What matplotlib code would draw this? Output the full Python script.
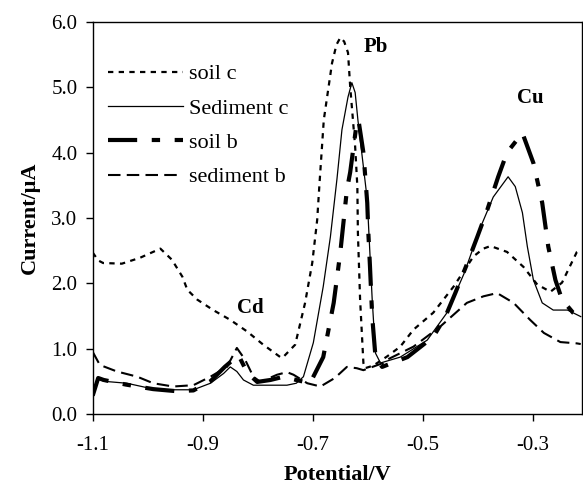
import matplotlib
matplotlib.use("Agg")
import matplotlib.pyplot as plt

# potential (V) / current (uA)
soil_c_v = [-1.100, -1.090, -1.081, -1.047, -1.014, -0.977, -0.956, -0.937, -0.928, -0.910,
            -0.881, -0.850, -0.819, -0.790, -0.759, -0.755, -0.732, -0.714, -0.701, -0.692,
            -0.688, -0.680, -0.665, -0.657, -0.650, -0.643, -0.636, -0.632, -0.623, -0.619,
            -0.618, -0.614, -0.608, -0.605, -0.590, -0.565, -0.541, -0.517, -0.481, -0.444,
            -0.408, -0.390, -0.377, -0.347, -0.317, -0.292, -0.268, -0.247, -0.220, -0.213]
soil_c_i = [2.47, 2.35, 2.31, 2.30, 2.39, 2.53, 2.36, 2.10, 1.90, 1.75,
            1.59, 1.44, 1.26, 1.06, 0.87, 0.86, 1.06, 1.70, 2.31, 2.97,
            3.50, 4.50, 5.37, 5.65, 5.76, 5.70, 5.53, 5.01, 4.09, 3.48,
            2.77, 1.75, 0.78, 0.70, 0.74, 0.88, 1.03, 1.29, 1.55, 1.95,
            2.41, 2.53, 2.57, 2.48, 2.25, 1.98, 1.87, 2.01, 2.48, 2.52]

sed_c_v = [-1.100, -1.090, -1.080, -1.038, -1.000, -0.977, -0.917, -0.886, -0.862, -0.850,
           -0.838, -0.826, -0.808, -0.777, -0.747, -0.730, -0.717, -0.699, -0.681, -0.668,
           -0.656, -0.647, -0.636, -0.629, -0.623, -0.618, -0.601, -0.592, -0.586, -0.577,
           -0.541, -0.492, -0.456, -0.425, -0.395, -0.372, -0.345, -0.332, -0.319, -0.310,
           -0.299, -0.283, -0.263, -0.237, -0.213]
sed_c_i = [0.26, 0.55, 0.50, 0.47, 0.40, 0.37, 0.37, 0.47, 0.62, 0.72,
           0.65, 0.52, 0.44, 0.44, 0.44, 0.47, 0.57, 1.09, 1.95, 2.71,
           3.60, 4.35, 4.85, 5.07, 4.92, 4.50, 3.28, 1.75, 0.93, 0.78,
           0.87, 1.13, 1.55, 2.15, 2.86, 3.32, 3.63, 3.48, 3.08, 2.56,
           2.05, 1.70, 1.59, 1.59, 1.49]

soil_b_v = [-1.100, -1.090, -1.080, -1.040, -0.990, -0.950, -0.917, -0.886, -0.860, -0.835,
            -0.819, -0.801, -0.777, -0.753, -0.730, -0.705, -0.681, -0.662, -0.650, -0.638,
            -0.632, -0.621, -0.617, -0.608, -0.601, -0.599, -0.596, -0.592, -0.586, -0.574,
            -0.528, -0.481, -0.459, -0.441, -0.419, -0.401, -0.383, -0.363, -0.347, -0.319,
            -0.299, -0.283, -0.272, -0.259, -0.247, -0.227, -0.213]
soil_b_i = [0.28, 0.55, 0.52, 0.45, 0.38, 0.35, 0.36, 0.50, 0.72, 0.90,
            0.63, 0.49, 0.52, 0.57, 0.52, 0.47, 0.87, 1.70, 2.47, 3.43,
            3.70, 4.40, 4.50, 4.00, 3.23, 2.77, 2.25, 1.49, 0.87, 0.72,
            0.87, 1.18, 1.49, 1.85, 2.31, 2.71, 3.12, 3.63, 4.00, 4.30,
            3.84, 3.23, 2.56, 2.05, 1.75, 1.55, 1.49]

sed_b_v = [-1.100, -1.087, -1.056, -1.019, -0.990, -0.954, -0.917, -0.886, -0.856, -0.838,
           -0.823, -0.808, -0.795, -0.765, -0.747, -0.735, -0.710, -0.686, -0.660, -0.638,
           -0.620, -0.608, -0.572, -0.565, -0.517, -0.468, -0.420, -0.390, -0.365, -0.335,
           -0.305, -0.280, -0.250, -0.220, -0.213]
sed_b_i = [0.95, 0.75, 0.65, 0.57, 0.47, 0.42, 0.44, 0.57, 0.72, 1.01,
           0.83, 0.57, 0.49, 0.60, 0.64, 0.60, 0.47, 0.42, 0.55, 0.72,
           0.70, 0.67, 0.78, 0.83, 1.03, 1.34, 1.70, 1.80, 1.85, 1.70,
           1.44, 1.24, 1.10, 1.08, 1.07]

x_ticks = [-1.1, -0.9, -0.7, -0.5, -0.3]
y_ticks = [0.0, 1.0, 2.0, 3.0, 4.0, 5.0, 6.0]

plt.rcParams['font.family'] = ['Liberation Serif', 'DejaVu Serif']

fig = plt.figure(figsize=(5.83, 4.87), dpi=100)
ax = fig.add_axes([0.159, 0.150, 0.839, 0.805])

ax.plot(soil_c_v, soil_c_i, color='black', lw=1.6, linestyle=(0, (2.4, 2.4)), label='soil c')
ax.plot(sed_c_v, sed_c_i, color='black', lw=0.9, linestyle='-', label='Sediment c')
ax.plot(soil_b_v, soil_b_i, color='black', lw=3.0, linestyle=(0, (7, 3.5, 2, 3.5)), label='soil b')
ax.plot(sed_b_v, sed_b_i, color='black', lw=1.5, linestyle=(0, (6, 3)), label='sediment b')

ax.set_xlim(-1.1, -0.211)
ax.set_ylim(0, 6)
ax.set_xticks(x_ticks)
ax.set_xticklabels([f"{t:.1f}" for t in x_ticks])
ax.set_yticks(y_ticks)
ax.set_yticklabels([f"{t:.1f}" for t in y_ticks])
ax.tick_params(direction='out', length=5, width=1, labelsize=15)
ax.tick_params(axis='x', pad=11)
ax.tick_params(axis='y', pad=6)

for s in ax.spines.values():
    s.set_linewidth(1.0)

ax.set_xlabel("Potential/V", fontsize=16, fontweight='bold', labelpad=7)
ax.set_ylabel("Current/\u03bcA", fontsize=16, fontweight='bold', labelpad=8)

ax.text(-0.586, 5.62, "Pb", fontsize=15, fontweight='bold', ha='center', va='center')
ax.text(-0.304, 4.83, "Cu", fontsize=15, fontweight='bold', ha='center', va='center')
ax.text(-0.813, 1.62, "Cd", fontsize=15, fontweight='bold', ha='center', va='center')

ax.legend(loc='upper left', bbox_to_anchor=(0.031, 0.893), frameon=False, fontsize=16,
          handlelength=3.4, handletextpad=0.23, labelspacing=0.62, borderpad=0, borderaxespad=0)

fig.savefig("out.png", dpi=100)
plt.close(fig)
